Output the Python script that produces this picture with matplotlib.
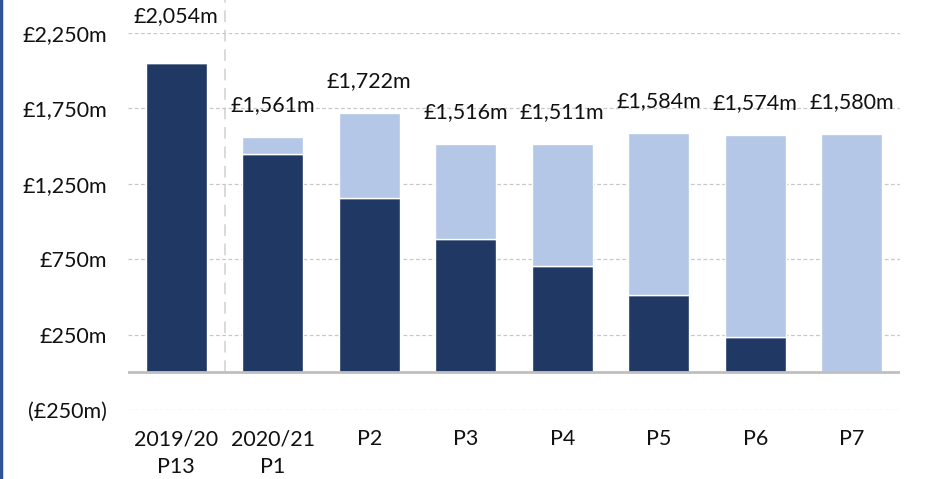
import matplotlib.pyplot as plt
import numpy as np
from matplotlib.lines import Line2D

# Data (£m)
periods = ['2019/20\nP13', '2020/21\nP1', 'P2', 'P3', 'P4', 'P5', 'P6', 'P7']
totals = [2054, 1561, 1722, 1516, 1511, 1584, 1574, 1580]
dark_part = [2054, 1445, 1155, 883, 707, 510, 236, 0]
light_part = [t - d for t, d in zip(totals, dark_part)]
y_ticks = [-250, 250, 750, 1250, 1750, 2250]

DARK = '#203864'
LIGHT = '#B4C7E7'
GRID = '#C8C8C8'
FS = 15.5

plt.rcParams['font.family'] = ['Lato', 'DejaVu Sans']


def money(v):
    if v < 0:
        return f'(£{abs(v):,}m)'
    return f'£{v:,}m'


fig = plt.figure(figsize=(9.25, 4.79), dpi=100)
ax = fig.add_axes([128 / 925, 1 - 410 / 479, (900 - 128) / 925, (410 - 33) / 479])

x = np.arange(len(periods))
width = 0.635

ax.bar(x, dark_part, width, color=DARK, edgecolor='white', linewidth=1, zorder=3)
ax.bar(x, light_part, width, bottom=dark_part, color=LIGHT, edgecolor='white',
       linewidth=1, zorder=3)

# total labels above each bar
for i, t in enumerate(totals):
    off = 46 if i == 0 else 32
    ax.annotate(money(t), (x[i], t), xytext=(0, off * 0.72), textcoords='offset points',
                ha='center', va='center', fontsize=FS, color='#111111',
                annotation_clip=False, zorder=5)

ax.set_xlim(-0.5, len(periods) - 0.5)
ax.set_ylim(y_ticks[0], y_ticks[-1])
ax.set_yticks(y_ticks)
ax.set_yticklabels([money(v) for v in y_ticks], fontsize=FS, color='#111111')
ax.set_xticks(x)
ax.set_xticklabels(periods, fontsize=FS, color='#111111', linespacing=1.45)
ax.tick_params(axis='y', length=0, pad=15)
ax.tick_params(axis='x', length=0, pad=14)

ax.grid(axis='y', color=GRID, linestyle=(0, (3, 2)), linewidth=0.9, zorder=0)
for s in ax.spines.values():
    s.set_visible(False)
ax.axhline(0, color='#BFBFBF', linewidth=2, zorder=4)

# separator between last year and this year
ax.add_line(Line2D([0.5, 0.5], [0, 2600], color='#D9D9D9', linewidth=1.4,
                   linestyle=(0, (6, 4)), clip_on=False, zorder=1))

# blue frame line on the left edge
fig.add_artist(Line2D([0.0015, 0.0015], [0, 1], transform=fig.transFigure,
                      color='#2F5597', linewidth=2.5))

fig.savefig('out.png', dpi=100, facecolor='white')
